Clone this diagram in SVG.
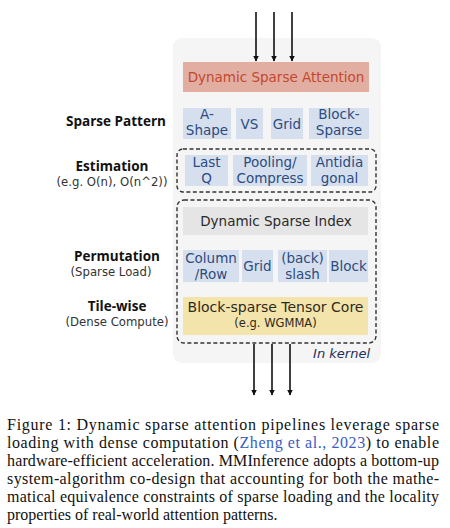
<svg xmlns="http://www.w3.org/2000/svg" width="450" height="528" viewBox="0 0 450 528">
<defs>
<marker id="ah" viewBox="0 0 10 10" refX="9" refY="5" markerWidth="3.5" markerHeight="5" orient="auto" markerUnits="strokeWidth">
<path d="M0,0 L10,5 L0,10 z" fill="#111"/>
</marker>
</defs>
<style>
text{font-family:"DejaVu Sans","Open Sans",sans-serif}
.lbl{text-anchor:middle;fill:#111}
.h{font-family:"Open Sans","DejaVu Sans",sans-serif;font-weight:700;font-size:13.5px}
.s{font-size:11.7px;fill:#333}
.blue rect{fill:#d6dfee}
.blue text{fill:#2b4c80;font-size:13.5px;text-anchor:middle}
.dash{fill:none;stroke:#333;stroke-width:1.4;stroke-dasharray:4 2.5}
.arr{stroke:#111;stroke-width:1.6;fill:none;marker-end:url(#ah)}
.cap{font-family:"Liberation Serif","Times New Roman",serif;font-size:16px;fill:#111}
</style>
<rect x="173" y="38" width="208" height="325" rx="9" fill="#f5f5f6"/>

<g id="labels" class="lbl">
<text class="h" x="116" y="125.5">Sparse Pattern</text>
<text class="h" x="112" y="170.5">Estimation</text>
<text class="s" x="112" y="185.5">(e.g. O(n), O(n^2))</text>
<text class="h" x="117" y="260.5">Permutation</text>
<text class="s" x="111" y="275.5">(Sparse Load)</text>
<text class="h" x="117" y="310.5">Tile-wise</text>
<text class="s" x="117" y="325.5">(Dense Compute)</text>
</g>

<g id="dsa">
<rect x="183" y="62" width="186" height="30" fill="#e3aea2"/>
<text x="276" y="82" font-size="13.5" fill="#c2482e" text-anchor="middle">Dynamic Sparse Attention</text>
</g>

<g id="ashape" class="blue"><rect x="183" y="108" width="48" height="31"/><text x="207" y="118.5">A-</text><text x="207" y="134.5">Shape</text></g>
<g id="vs" class="blue"><rect x="236" y="108" width="27" height="31"/><text x="249.5" y="128.5">VS</text></g>
<g id="grid1" class="blue"><rect x="271" y="108" width="32" height="31"/><text x="287" y="128.5">Grid</text></g>
<g id="blocksparse" class="blue"><rect x="309" y="108" width="60" height="31"/><text x="339" y="118.5">Block-</text><text x="339" y="134.5">Sparse</text></g>

<g id="estimation">
<rect class="dash" x="177" y="149" width="199" height="43" rx="6"/>
</g>
<g id="lastq" class="blue"><rect x="185" y="155" width="43" height="31"/><text x="206.5" y="167">Last</text><text x="206.5" y="183">Q</text></g>
<g id="pooling" class="blue"><rect x="233" y="155" width="74" height="31"/><text x="270" y="167">Pooling/</text><text x="270" y="183">Compress</text></g>
<g id="antidiag" class="blue"><rect x="311" y="155" width="57" height="31"/><text x="339.5" y="167">Antidia</text><text x="339.5" y="183">gonal</text></g>

<g id="kernel">
<rect class="dash" x="177" y="200" width="199" height="143" rx="7"/>
<text x="370" y="357.5" font-size="13" font-style="italic" fill="#1f2f5a" text-anchor="end">In kernel</text>
</g>
<g id="dsi"><rect x="183" y="207" width="185" height="28" fill="#e5e5e5"/><text x="276" y="225.5" font-size="13.5" fill="#2a2a2a" text-anchor="middle">Dynamic Sparse Index</text></g>
<g id="colrow" class="blue"><rect x="183" y="250" width="56" height="32"/><text x="211" y="263">Column</text><text x="211" y="279">/Row</text></g>
<g id="grid2" class="blue"><rect x="242" y="250" width="31" height="32"/><text x="257.5" y="271">Grid</text></g>
<g id="slash" class="blue"><rect x="278" y="250" width="49" height="32"/><text x="302.5" y="263">(back)</text><text x="302.5" y="279">slash</text></g>
<g id="block" class="blue"><rect x="329" y="250" width="39" height="32"/><text x="348.5" y="271">Block</text></g>
<g id="tensor"><rect x="183" y="297" width="185" height="38" fill="#f3e4ab"/><text x="275.5" y="311.5" font-size="14" fill="#2f2a1c" text-anchor="middle">Block-sparse Tensor Core</text><text x="275.5" y="326.5" font-size="11.5" fill="#2f2a1c" text-anchor="middle">(e.g. WGMMA)</text></g>

<g id="connectors">
<line class="arr" x1="256" y1="12" x2="256" y2="61"/>
<line class="arr" x1="274" y1="12" x2="274" y2="61"/>
<line class="arr" x1="292" y1="12" x2="292" y2="61"/>
<line class="arr" x1="254" y1="344" x2="254" y2="395"/>
<line class="arr" x1="272" y1="344" x2="272" y2="395"/>
<line class="arr" x1="290" y1="344" x2="290" y2="395"/>
</g>

<g id="caption">
<text class="cap" x="7" y="430" textLength="432" lengthAdjust="spacing">Figure 1:  Dynamic sparse attention pipelines leverage sparse</text>
<text class="cap" x="7" y="448" textLength="432" lengthAdjust="spacing">loading with dense computation (<tspan fill="#3a5cc4">Zheng et al., 2023</tspan>) to enable</text>
<text class="cap" x="7" y="466" textLength="432" lengthAdjust="spacing">hardware-efficient acceleration. MMInference adopts a bottom-up</text>
<text class="cap" x="7" y="484" textLength="432" lengthAdjust="spacing">system-algorithm co-design that accounting for both the mathe-</text>
<text class="cap" x="7" y="502" textLength="432" lengthAdjust="spacing">matical equivalence constraints of sparse loading and the locality</text>
<text class="cap" x="7" y="520">properties of real-world attention patterns.</text>
</g>
</svg>
